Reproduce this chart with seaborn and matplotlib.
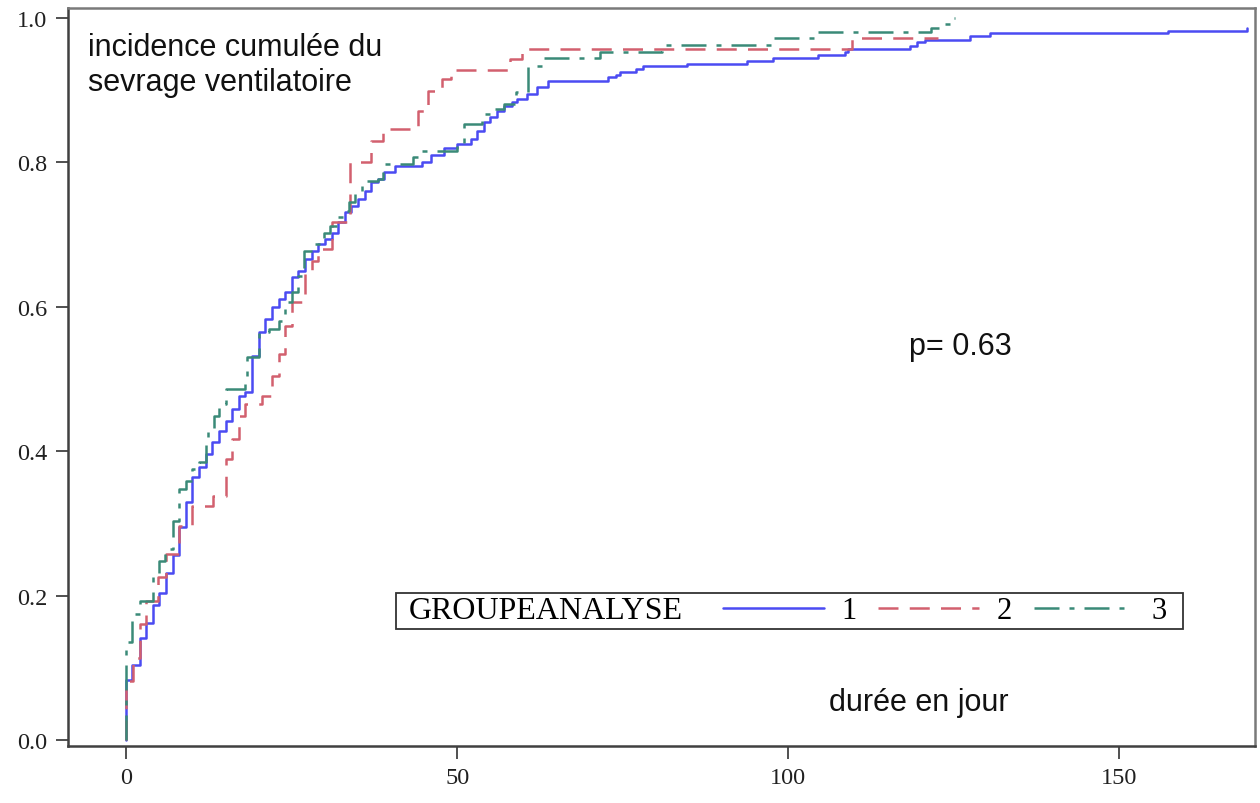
import numpy as np
import pandas as pd
import matplotlib
matplotlib.use("Agg")
import matplotlib.pyplot as plt
from matplotlib.lines import Line2D
from matplotlib.offsetbox import HPacker, DrawingArea
import seaborn as sns

# ---------------- data ----------------
g1_time = [0, 0, 0.9, 2, 3, 4, 5, 6, 7, 8, 9, 10, 11, 12, 13, 14, 15, 16, 17, 18, 19, 20,
           21, 22, 23, 24, 25, 26, 27, 28, 29, 30, 31, 32, 33, 34, 35, 36, 37, 38, 39,
           40.6, 44.7, 46, 48, 50, 52, 53, 54, 55, 56, 57, 58.3, 59, 60.6, 62, 63.7,
           72.7, 74, 74.6, 77, 78, 84.7, 93.8, 97.7, 104.5, 108.6, 109, 118.4, 119.5,
           120.7, 127.5, 130.5, 157.4, 169.3]
g1_cuminc = [0, 0.084, 0.104, 0.141, 0.162, 0.187, 0.204, 0.232, 0.257, 0.295, 0.33, 0.364,
             0.378, 0.396, 0.413, 0.428, 0.442, 0.458, 0.477, 0.482, 0.532, 0.565, 0.583,
             0.6, 0.611, 0.62, 0.641, 0.65, 0.666, 0.677, 0.687, 0.694, 0.703, 0.717,
             0.731, 0.74, 0.749, 0.76, 0.773, 0.777, 0.787, 0.795, 0.80, 0.81, 0.82,
             0.825, 0.832, 0.843, 0.856, 0.863, 0.871, 0.878, 0.884, 0.888, 0.895, 0.904,
             0.913, 0.918, 0.921, 0.925, 0.929, 0.933, 0.937, 0.94, 0.945, 0.949, 0.953,
             0.957, 0.961, 0.967, 0.97, 0.975, 0.979, 0.982, 0.986]

g2_time = [0, 0, 1, 2, 3, 4.8, 6, 8, 10, 13.1, 15, 16, 17, 18, 20.5, 22, 23, 24, 25, 27,
           28, 29, 31, 33.8, 36.9, 38.8, 44, 45.6, 47.7, 49, 58, 59.8, 109.7, 122.6]
g2_cuminc = [0, 0.082, 0.114, 0.161, 0.193, 0.226, 0.258, 0.296, 0.324, 0.338, 0.389,
             0.417, 0.449, 0.465, 0.477, 0.504, 0.535, 0.574, 0.607, 0.648, 0.663, 0.68,
             0.717, 0.80, 0.83, 0.846, 0.871, 0.899, 0.916, 0.928, 0.943, 0.957, 0.972,
             0.972]

g3_time = [0, 0, 0.9, 2.1, 4, 5, 5.9, 7, 7.9, 9, 10, 11, 12, 12.3, 13.2, 14, 15, 18, 18.3,
           20, 21.5, 23, 24, 25, 26, 26.8, 28, 29.8, 30.8, 32, 32.8, 33.6, 34.6, 35.6,
           36.4, 38, 38.8, 43.3, 44.5, 50, 51, 53.8, 55.7, 57, 58.8, 60.7, 63, 71.6, 81,
           97.7, 104.5, 121.5, 123, 124.5, 125.2]
g3_cuminc = [0, 0.136, 0.175, 0.193, 0.23, 0.248, 0.265, 0.303, 0.348, 0.359, 0.375,
             0.385, 0.413, 0.431, 0.449, 0.465, 0.486, 0.503, 0.53, 0.565, 0.569, 0.58,
             0.607, 0.62, 0.643, 0.677, 0.687, 0.703, 0.712, 0.724, 0.733, 0.745, 0.756,
             0.767, 0.774, 0.777, 0.798, 0.807, 0.816, 0.825, 0.853, 0.867, 0.874, 0.881,
             0.897, 0.934, 0.944, 0.953, 0.963, 0.972, 0.981, 0.986, 0.992, 1.0, 1.0]

groups = ["1", "2", "3"]
x_ticks = [0, 50, 100, 150]
y_ticks = [0.0, 0.2, 0.4, 0.6, 0.8, 1.0]
legend_title = "GROUPEANALYSE"
y_label_text = "incidence cumulée du\nsevrage ventilatoire"
p_text = "p= 0.63"
x_label_text = "durée en jour"

# ---------------- styling ----------------
sns.set_style("white")
plt.rcParams["font.family"] = ["Liberation Serif", "DejaVu Serif"]

colors = {"1": "#4b4bf2", "2": "#d2606e", "3": "#3a8a78"}
dashes = {"1": "", "2": (8, 4.5), "3": (10, 4, 2, 4)}
lw = 1.8

frames = []
for g, t, v in zip(groups, [g1_time, g2_time, g3_time], [g1_cuminc, g2_cuminc, g3_cuminc]):
    frames.append(pd.DataFrame({"time": t, "cuminc": v, "group": g}))
df = pd.concat(frames, ignore_index=True)

fig = plt.figure(figsize=(12.6, 8.04), dpi=100)
ax = fig.add_axes([0.054, 0.0709, 0.942, 0.918])

sns.lineplot(data=df, x="time", y="cuminc", hue="group", style="group",
             palette=colors, dashes=dashes, estimator=None, sort=False,
             drawstyle="steps-post", linewidth=lw, legend=False, ax=ax)

ax.set_xlim(-8.8, 170.5)
ax.set_ylim(-0.008, 1.014)
ax.set_xticks(x_ticks)
ax.set_xticklabels([str(v) for v in x_ticks])
ax.set_yticks(y_ticks)
ax.set_yticklabels([f"{v:.1f}" for v in y_ticks])
ax.set_xlabel("")
ax.set_ylabel("")
ax.tick_params(axis="both", which="major", direction="out", length=9, width=1.1,
               color="#202020", labelsize=17.5, labelcolor="#202020", pad=6,
               left=True, bottom=True)
for side, sp in ax.spines.items():
    sp.set_visible(True)
    sp.set_linewidth(1.8)
    sp.set_color("#404040" if side in ("left", "bottom") else "#7a7a7a")

sans = ["Liberation Sans", "DejaVu Sans"]
ax.text(0.017, 0.968, y_label_text, transform=ax.transAxes, ha="left", va="top",
        fontsize=22, family=sans, linespacing=1.25, color="#111111")
ax.text(0.7515, 0.542, p_text, transform=ax.transAxes, ha="center", va="center",
        fontsize=22, family=sans, color="#111111")
ax.text(0.717, 0.0596, x_label_text, transform=ax.transAxes, ha="center", va="center",
        fontsize=22, family=sans, color="#111111")

handles = [Line2D([], [], color=colors[g], linewidth=lw,
                  **({"dashes": dashes[g]} if dashes[g] else {"linestyle": "-"}))
           for g in groups]
leg = ax.legend(handles, groups, title=legend_title, ncol=3, loc="center",
                bbox_to_anchor=(0.608, 0.183), frameon=True, fancybox=False,
                fontsize=22, title_fontsize=23, handlelength=3.3, handletextpad=0.55,
                columnspacing=0.6, borderpad=0.12, borderaxespad=0,
                edgecolor="black")
leg.get_frame().set_linewidth(1.3)
leg.get_title().set_color("black")
for t in leg.get_texts():
    t.set_color("black")
# put title on the left of the entries, with side padding
vp = leg.get_children()[0]
title_box, hbox = vp.get_children()
hbox.sep = 16
row = HPacker(pad=0, sep=29, align="center", children=[title_box, hbox])
outer = HPacker(pad=0, sep=0, align="center",
                children=[DrawingArea(6.7, 1), row, DrawingArea(9.5, 1)])
for b in (row, outer):
    b.set_figure(fig)
vp._children = [outer]

fig.savefig("out.png", dpi=100)
